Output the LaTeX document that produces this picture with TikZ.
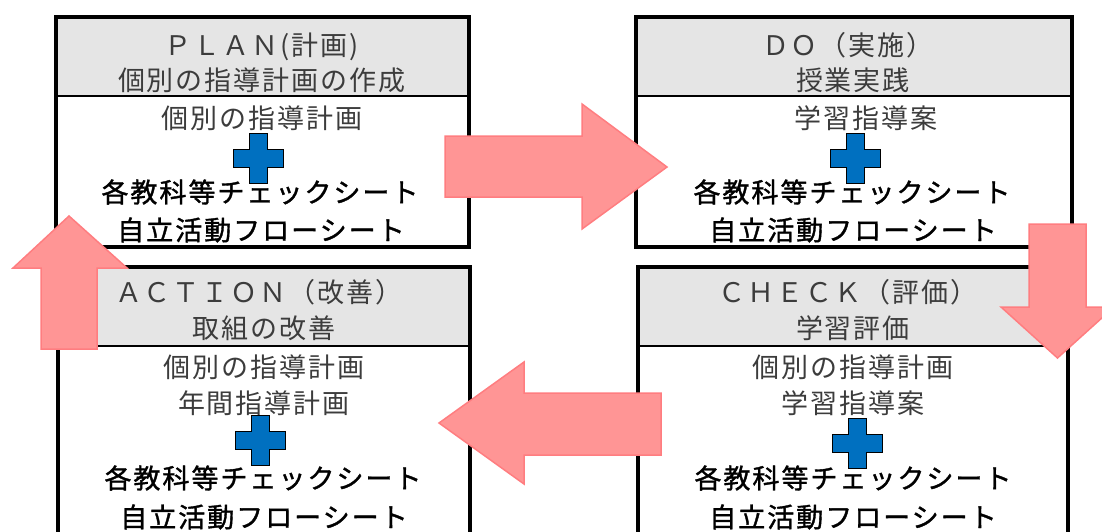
\documentclass[tikz,border=0pt]{standalone}
\usepackage{fontspec}
\setmainfont{Noto Sans CJK JP}[LetterSpace=7.4]
\newfontfamily\jpheavy{Noto Sans CJK JP}[LetterSpace=7.4,FakeBold=1.3]
\definecolor{arrowfill}{RGB}{255,149,149}
\definecolor{arrowline}{RGB}{255,125,128}
\definecolor{headfill}{RGB}{229,229,229}
\definecolor{plusblue}{RGB}{0,112,192}
\definecolor{txtgray}{RGB}{60,60,60}
\tikzset{
  thin/.style={font=\fontsize{27}{30}\selectfont, text=txtgray, inner sep=0pt, anchor=center},
  heavy/.style={font=\jpheavy\fontsize{27}{30}\selectfont, text=black, inner sep=0pt, anchor=center},
  frame/.style={draw=black, line width=3.2pt},
  sepline/.style={draw=black, line width=2pt},
  hdrfill/.style={fill=headfill},
  blockarrow/.style={fill=arrowfill, draw=arrowline, line width=1.5pt, line join=miter},
  plussign/.pic={\filldraw[fill=plusblue, draw=black, line width=1pt]
    (-9,-25) -- (9,-25) -- (9,-9) -- (25,-9) -- (25,9) -- (9,9) -- (9,25) -- (-9,25) -- (-9,9) -- (-25,9) -- (-25,-9) -- (-9,-9) -- cycle;}
}
\begin{document}
\begin{tikzpicture}[x=1pt,y=-1pt]
\useasboundingbox (0,0) rectangle (1102,531);
\clip (0,0) rectangle (1102,531);
% ---------- PLAN box ----------
\fill[hdrfill] (56,17) rectangle (469,96);
\draw[sepline] (56,96) -- (469,96);
\draw[frame] (56,17) rectangle (469,247);
\node[thin] (p1) at (262,47) {ＰＬＡＮ(計画)};
\node[thin] (p2) at (262,80) {個別の指導計画の作成};
\node[thin] (p3) at (262,118) {個別の指導計画};
\pic at (258,158) {plussign};
\node[heavy] (p4) at (260,192) {各教科等チェックシート};
\node[heavy] (p5) at (261,230) {自立活動フローシート};
% ---------- DO box ----------
\fill[hdrfill] (636,17) rectangle (1072,96);
\draw[sepline] (636,96) -- (1072,96);
\draw[frame] (636,17) rectangle (1072,247);
\node[thin] (d1) at (848,45) {ＤＯ（実施）};
\node[thin] (d2) at (853,80) {授業実践};
\node[thin] (d3) at (866,118) {学習指導案};
\pic at (855,158) {plussign};
\node[heavy] (d4) at (852,192) {各教科等チェックシート};
\node[heavy] (d5) at (853,230) {自立活動フローシート};
% ---------- ACTION box ----------
\fill[hdrfill] (58,267) rectangle (470,346);
\draw[sepline] (58,346) -- (470,346);
\draw[frame] (58,267) rectangle (470,580);
\node[thin] (a1) at (259,292) {ＡＣＴＩＯＮ（改善）};
\node[thin] (a2) at (264,328) {取組の改善};
\node[thin] (a3) at (264,367) {個別の指導計画};
\node[thin] (a4) at (264,403) {年間指導計画};
\pic at (260,440) {plussign};
\node[heavy] (a5) at (263,478) {各教科等チェックシート};
\node[heavy] (a6) at (264,517) {自立活動フローシート};
% ---------- CHECK box ----------
\fill[hdrfill] (638,267) rectangle (1068,346);
\draw[sepline] (638,346) -- (1068,346);
\draw[frame] (638,267) rectangle (1068,580);
\node[thin] (c1) at (848,292) {ＣＨＥＣＫ（評価）};
\node[thin] (c2) at (853,328) {学習評価};
\node[thin] (c3) at (853,367) {個別の指導計画};
\node[thin] (c4) at (853,403) {学習指導案};
\pic at (857,443) {plussign};
\node[heavy] (c5) at (853,478) {各教科等チェックシート};
\node[heavy] (c6) at (853,517) {自立活動フローシート};
% ---------- block arrows ----------
\draw[blockarrow] (445,136) -- (582,136) -- (582,104) -- (667,167) -- (582,229) -- (582,197) -- (445,197) -- cycle;
\draw[blockarrow] (1029,224) -- (1086,224) -- (1086,307) -- (1114,307) -- (1057.5,358) -- (1001,307) -- (1029,307) -- cycle;
\draw[blockarrow] (661,393) -- (524,393) -- (524,362) -- (439,423) -- (524,484) -- (524,455) -- (661,455) -- cycle;
\draw[blockarrow] (41,349) -- (41,268) -- (13,268) -- (69,216) -- (127,268) -- (97,268) -- (97,349) -- cycle;
\end{tikzpicture}
\end{document}
